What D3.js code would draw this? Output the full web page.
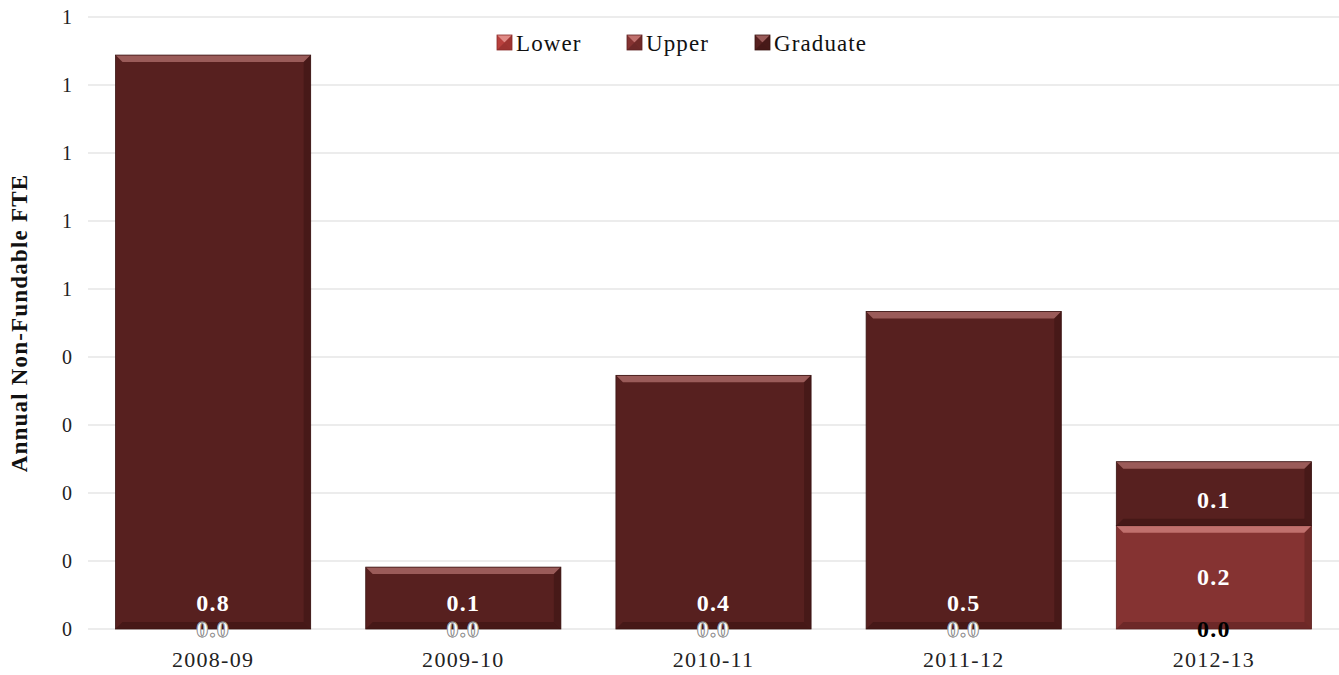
<!DOCTYPE html>
<html>
<head>
<meta charset="utf-8">
<script src="https://cdn.jsdelivr.net/npm/d3@7"></script>
<style>
  body { margin: 0; background: #fff; }
  svg text { font-family: "Liberation Serif", "DejaVu Serif", serif; }
</style>
</head>
<body>
<div id="chart"></div>
<script>
// data
var years = ["2008-09", "2009-10", "2010-11", "2011-12", "2012-13"];
var lower = [0, 0, 0, 0, 0];
var upper = [0, 0, 0, 0, 0.152];
var graduate = [0.844, 0.091, 0.373, 0.467, 0.094];
var yTicks = [0, 0.1, 0.2, 0.3, 0.4, 0.5, 0.6, 0.7, 0.8, 0.9];
var seriesNames = ["Lower", "Upper", "Graduate"];

var colors = {
  Lower:    {base: "#b8403d", light: "#e08a86", dark: "#8a2c2a"},
  Upper:    {base: "#853332", light: "#c0706d", dark: "#5e2221"},
  Graduate: {base: "#57201f", light: "#9a5b59", dark: "#3a1413"}
};

var W = 1339, H = 675;
var margin = {top: 17, right: 0, bottom: 46, left: 88};

var svg = d3.select("#chart").append("svg")
  .attr("width", W)
  .attr("height", H);

var x = d3.scaleBand()
  .domain(years)
  .range([margin.left, W - margin.right])
  .paddingInner(0.22)
  .paddingOuter(0.11);

var y = d3.scaleLinear()
  .domain([0, 0.9])
  .range([H - margin.bottom, margin.top]);

// gridlines
svg.append("g")
  .selectAll("line")
  .data(yTicks)
  .enter().append("line")
    .attr("x1", margin.left)
    .attr("x2", W)
    .attr("y1", function(d){ return y(d); })
    .attr("y2", function(d){ return y(d); })
    .attr("stroke", "#d9d9d9")
    .attr("stroke-width", 1);

// y axis labels (rounded to whole numbers like the original)
var yAxis = d3.axisLeft(y)
  .tickValues(yTicks)
  .tickFormat(function(d){ return d3.format(".0f")(d + 1e-9); })
  .tickSize(0)
  .tickPadding(16);
var ga = svg.append("g")
  .attr("transform", "translate(" + margin.left + ",0)")
  .call(yAxis);
ga.select(".domain").remove();
ga.selectAll("text")
  .attr("font-size", 20)
  .attr("fill", "#222");

// x axis labels
var xAxis = d3.axisBottom(x).tickSize(0).tickPadding(22);
var gx = svg.append("g")
  .attr("transform", "translate(0," + y(0) + ")")
  .call(xAxis);
gx.select(".domain").remove();
gx.selectAll("text")
  .attr("font-size", 22)
  .attr("letter-spacing", 1.3)
  .attr("fill", "#222");

// stack
var rows = years.map(function(yr, i){
  return {year: yr, Lower: lower[i], Upper: upper[i], Graduate: graduate[i]};
});
var stacked = d3.stack().keys(seriesNames)(rows);

// beveled bar helper
function bevelBar(g, x0, y0, w, h, c) {
  if (h <= 0.5) return;
  var b = Math.min(7, h / 2);
  g.append("rect")
    .attr("x", x0).attr("y", y0).attr("width", w).attr("height", h)
    .attr("fill", c.base);
  // top bevel
  g.append("path")
    .attr("d", "M" + x0 + "," + y0 + "L" + (x0 + w) + "," + y0 +
      "L" + (x0 + w - b) + "," + (y0 + b) + "L" + (x0 + b) + "," + (y0 + b) + "Z")
    .attr("fill", c.light);
  // right bevel
  g.append("path")
    .attr("d", "M" + (x0 + w) + "," + y0 + "L" + (x0 + w - b) + "," + (y0 + b) +
      "L" + (x0 + w - b) + "," + (y0 + h - b) + "L" + (x0 + w) + "," + (y0 + h) + "Z")
    .attr("fill", c.dark).attr("opacity", 0.55);
  // bottom bevel
  g.append("path")
    .attr("d", "M" + x0 + "," + (y0 + h) + "L" + (x0 + w) + "," + (y0 + h) +
      "L" + (x0 + w - b) + "," + (y0 + h - b) + "L" + (x0 + b) + "," + (y0 + h - b) + "Z")
    .attr("fill", c.dark).attr("opacity", 0.6);
  g.append("rect")
    .attr("x", x0).attr("y", y0).attr("width", w).attr("height", h)
    .attr("fill", "none").attr("stroke", c.dark).attr("stroke-width", 0.8);
}

var barsG = svg.append("g");
stacked.forEach(function(layer){
  var c = colors[layer.key];
  layer.forEach(function(d){
    bevelBar(barsG, x(d.data.year), y(d[1]), x.bandwidth(), y(d[0]) - y(d[1]), c);
  });
});

// data labels
var labelsG = svg.append("g");
stacked.forEach(function(layer){
  layer.forEach(function(d){
    var v = d[1] - d[0];
    var cx = x(d.data.year) + x.bandwidth() / 2;
    var ly, fill = "#fff", stroke = null;
    if (layer.key === "Graduate") {
      ly = y(d[0]) - 26;
    } else {
      ly = (y(d[0]) + y(d[1])) / 2;
    }
    if (v === 0) {
      // zero labels sit on the baseline
      if (d.data.Upper > 0) { fill = "#000"; }
      else { fill = "#fff"; stroke = "#8a8a8a"; }
    }
    var t = labelsG.append("text")
      .attr("x", cx)
      .attr("y", ly)
      .attr("dy", "0.33em")
      .attr("text-anchor", "middle")
      .attr("font-size", 24)
      .attr("letter-spacing", 1.2)
      .attr("font-weight", "bold")
      .attr("fill", fill)
      .text(d3.format(".1f")(v));
    if (stroke) t.attr("stroke", stroke).attr("stroke-width", 0.8);
  });
});

// legend
var legendX = [497, 627, 755];
var lg = svg.append("g");
seriesNames.forEach(function(name, i){
  var g = lg.append("g").attr("transform", "translate(" + legendX[i] + ",35)");
  bevelBar(g, 0, 0, 15, 15, colors[name]);
  g.append("text")
    .attr("x", 19)
    .attr("y", 8)
    .attr("dy", "0.35em")
    .attr("font-size", 23)
    .attr("letter-spacing", 1.1)
    .attr("fill", "#111")
    .text(name);
});

// y axis title
svg.append("text")
  .attr("transform", "translate(27," + ((y(0) + y(0.9)) / 2) + ") rotate(-90)")
  .attr("text-anchor", "middle")
  .attr("font-size", 23)
  .attr("letter-spacing", 1.2)
  .attr("font-weight", "bold")
  .attr("fill", "#111")
  .text("Annual Non-Fundable FTE");
</script>
</body>
</html>
